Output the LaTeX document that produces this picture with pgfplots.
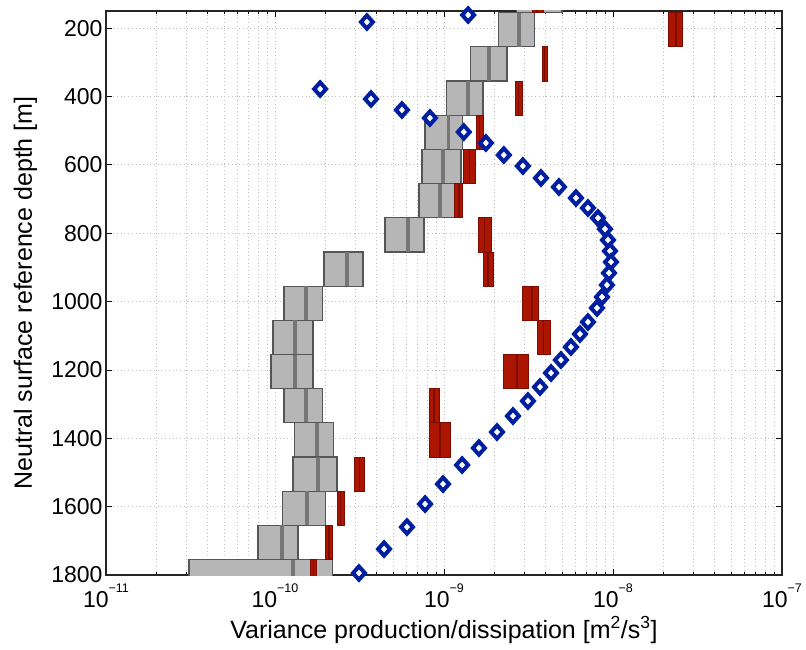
\documentclass[border=0pt]{standalone}
\usepackage{fontspec}
\setmainfont{Liberation Sans}
\usepackage{pgfplots}
\usepackage{pgfplotstable}
\pgfplotsset{compat=1.18}

\definecolor{boxgray}{RGB}{182,182,182}
\definecolor{boxedge}{RGB}{85,85,85}
\definecolor{medgray}{RGB}{118,118,118}
\definecolor{redfill}{RGB}{172,22,0}
\definecolor{rededge}{RGB}{125,12,0}
\definecolor{dblue}{RGB}{0,30,160}

% gray boxes: top depth of 100 m bin, left, median, right
\pgfplotstableread{
top L M R
55 2.70e-9 3.70e-9 4.99e-9
155 2.11e-9 2.78e-9 3.45e-9
255 1.43e-9 1.85e-9 2.36e-9
355 1.04e-9 1.39e-9 1.70e-9
455 7.73e-10 1.06e-9 1.29e-9
555 7.41e-10 9.87e-10 1.26e-9
655 7.11e-10 9.50e-10 1.19e-9
755 4.48e-10 6.12e-10 7.62e-10
855 1.95e-10 2.67e-10 3.32e-10
955 1.13e-10 1.53e-10 1.92e-10
1055 9.73e-11 1.31e-10 1.68e-10
1155 9.47e-11 1.31e-10 1.68e-10
1255 1.13e-10 1.53e-10 1.92e-10
1355 1.30e-10 1.77e-10 2.23e-10
1455 1.28e-10 1.80e-10 2.33e-10
1555 1.11e-10 1.55e-10 2.00e-10
1655 7.93e-11 1.10e-10 1.37e-10
1755 3.10e-11 1.28e-10 2.20e-10
}\graydata

% red boxes
\pgfplotstableread{
top L M R
55 3.32e-9 3.55e-9 3.85e-9
155 2.14e-8 2.36e-8 2.56e-8
255 3.80e-9 3.93e-9 4.07e-9
355 2.63e-9 2.76e-9 2.90e-9
455 1.55e-9 1.62e-9 1.70e-9
555 1.31e-9 1.42e-9 1.53e-9
655 1.16e-9 1.23e-9 1.29e-9
755 1.59e-9 1.74e-9 1.90e-9
855 1.70e-9 1.82e-9 1.95e-9
955 2.93e-9 3.32e-9 3.60e-9
1055 3.55e-9 3.88e-9 4.24e-9
1155 2.26e-9 2.70e-9 3.18e-9
1255 8.15e-10 8.73e-10 9.34e-10
1355 8.15e-10 9.47e-10 1.09e-9
1455 2.97e-10 3.16e-10 3.36e-10
1555 2.33e-10 2.44e-10 2.56e-10
1655 1.98e-10 2.09e-10 2.20e-10
1755 1.61e-10 1.69e-10 1.77e-10
}\reddata

% blue diamonds: depth, value
\pgfplotstableread{
d x
161.7 1.39e-9
182.2 3.50e-10
378.2 1.85e-10
407.5 3.70e-10
439.6 5.64e-10
463.1 8.26e-10
504.0 1.31e-9
536.2 1.77e-9
571.3 2.26e-9
603.5 2.93e-9
638.6 3.75e-9
664.9 4.79e-9
697.1 6.04e-9
726.4 7.11e-9
755.6 8.15e-9
787.8 8.97e-9
820.0 9.34e-9
852.2 9.60e-9
884.3 9.73e-9
916.5 9.47e-9
951.6 9.21e-9
986.7 8.61e-9
1018.9 8.04e-9
1059.9 7.11e-9
1095.0 6.38e-9
1133.0 5.64e-9
1171.1 4.92e-9
1209.1 4.30e-9
1250.1 3.70e-9
1291.0 3.14e-9
1334.9 2.56e-9
1381.7 2.06e-9
1428.5 1.61e-9
1478.3 1.28e-9
1533.9 9.87e-10
1592.4 7.73e-10
1659.7 6.04e-10
1724.0 4.42e-10
1794.3 3.14e-10
}\bluedata

\pgfplotsset{
  graybox/.style={fill=boxgray, draw=boxedge, line width=1.2pt},
  grayline/.style={draw=medgray, line width=3.5pt},
  redbox/.style={fill=redfill, draw=rededge, line width=0.8pt},
  redline/.style={draw=rededge, line width=1.4pt},
}

\newcommand{\expo}[1]{10\raisebox{15pt}{\fontsize{12.5}{12.5}\selectfont #1}}

\begin{document}
\begin{tikzpicture}
\begin{axis}[
  at={(0,0)}, anchor=south west,
  scale only axis, width=676pt, height=564pt,
  xmode=log, xmin=1e-11, xmax=1e-7,
  ymin=150, ymax=1800, y dir=reverse,
  ytick={200,400,...,1800},
  xtick={1e-11,1e-10,1e-9,1e-8,1e-7},
  xticklabels={\expo{−11},\expo{−10},\expo{−9},\expo{−8},\expo{−7}},
  minor xtick={2e-11,3e-11,4e-11,5e-11,6e-11,7e-11,8e-11,9e-11,
               2e-10,3e-10,4e-10,5e-10,6e-10,7e-10,8e-10,9e-10,
               2e-9,3e-9,4e-9,5e-9,6e-9,7e-9,8e-9,9e-9,
               2e-8,3e-8,4e-8,5e-8,6e-8,7e-8,8e-8,9e-8},
  xmajorgrids, xminorgrids, ymajorgrids,
  major grid style={gray!50, line width=0.7pt, dash pattern=on 0.7pt off 3pt},
  minor grid style={gray!50, line width=0.7pt, dash pattern=on 0.7pt off 3pt},
  tick align=inside,
  major tick length=6pt, minor tick length=3.5pt,
  tick style={black, line width=0.8pt},
  axis line style={black!85, line width=1.1pt},
  /pgf/number format/assume math mode=true,
  /pgf/number format/1000 sep={},
  yticklabel={\pgfmathprintnumber[assume math mode=true,1000 sep={}]{\tick}},
  ticklabel style={font=\fontsize{23}{23}\selectfont},
  xticklabel style={yshift=-5pt},
  xlabel={Variance production/dissipation [m\textsuperscript{2}/s\textsuperscript{3}]},
  ylabel={Neutral surface reference depth [m]},
  label style={font=\fontsize{25}{25}\selectfont},
  xlabel style={at={(axis description cs:0.5,0)}, anchor=base, yshift=-63pt},
  ylabel style={at={(axis description cs:-0.1095,0.5)}, anchor=base},
]
% blue diamonds
\addplot[only marks, mark=diamond*, mark size=6.6pt,
  mark options={draw=dblue, fill=white, line width=4pt, xscale=1.2}]
  table[x=x, y=d] {\bluedata};

% gray boxes
\pgfplotsinvokeforeach{0,...,17}{%
  \pgfplotstablegetelem{#1}{top}\of\graydata \edef\T{\pgfplotsretval}%
  \pgfplotstablegetelem{#1}{L}\of\graydata \edef\Lv{\pgfplotsretval}%
  \pgfplotstablegetelem{#1}{M}\of\graydata \edef\Mv{\pgfplotsretval}%
  \pgfplotstablegetelem{#1}{R}\of\graydata \edef\Rv{\pgfplotsretval}%
  \pgfmathsetmacro\B{\T+100}%
  \edef\cmd{\noexpand\addplot[graybox] coordinates {(\Lv,\T) (\Rv,\T) (\Rv,\B) (\Lv,\B)} --cycle;
    \noexpand\addplot[grayline] coordinates {(\Mv,\T) (\Mv,\B)};}%
  \cmd
}
% red boxes
\pgfplotsinvokeforeach{0,...,17}{%
  \pgfplotstablegetelem{#1}{top}\of\reddata \edef\T{\pgfplotsretval}%
  \pgfplotstablegetelem{#1}{L}\of\reddata \edef\Lv{\pgfplotsretval}%
  \pgfplotstablegetelem{#1}{M}\of\reddata \edef\Mv{\pgfplotsretval}%
  \pgfplotstablegetelem{#1}{R}\of\reddata \edef\Rv{\pgfplotsretval}%
  \pgfmathsetmacro\B{\T+100}%
  \edef\cmd{\noexpand\addplot[redbox] coordinates {(\Lv,\T) (\Rv,\T) (\Rv,\B) (\Lv,\B)} --cycle;
    \noexpand\addplot[redline] coordinates {(\Mv,\T) (\Mv,\B)};}%
  \cmd
}
\end{axis}
\pgfresetboundingbox
\useasboundingbox (-106pt,-75pt) rectangle (700pt,575pt);
\end{tikzpicture}
\end{document}
